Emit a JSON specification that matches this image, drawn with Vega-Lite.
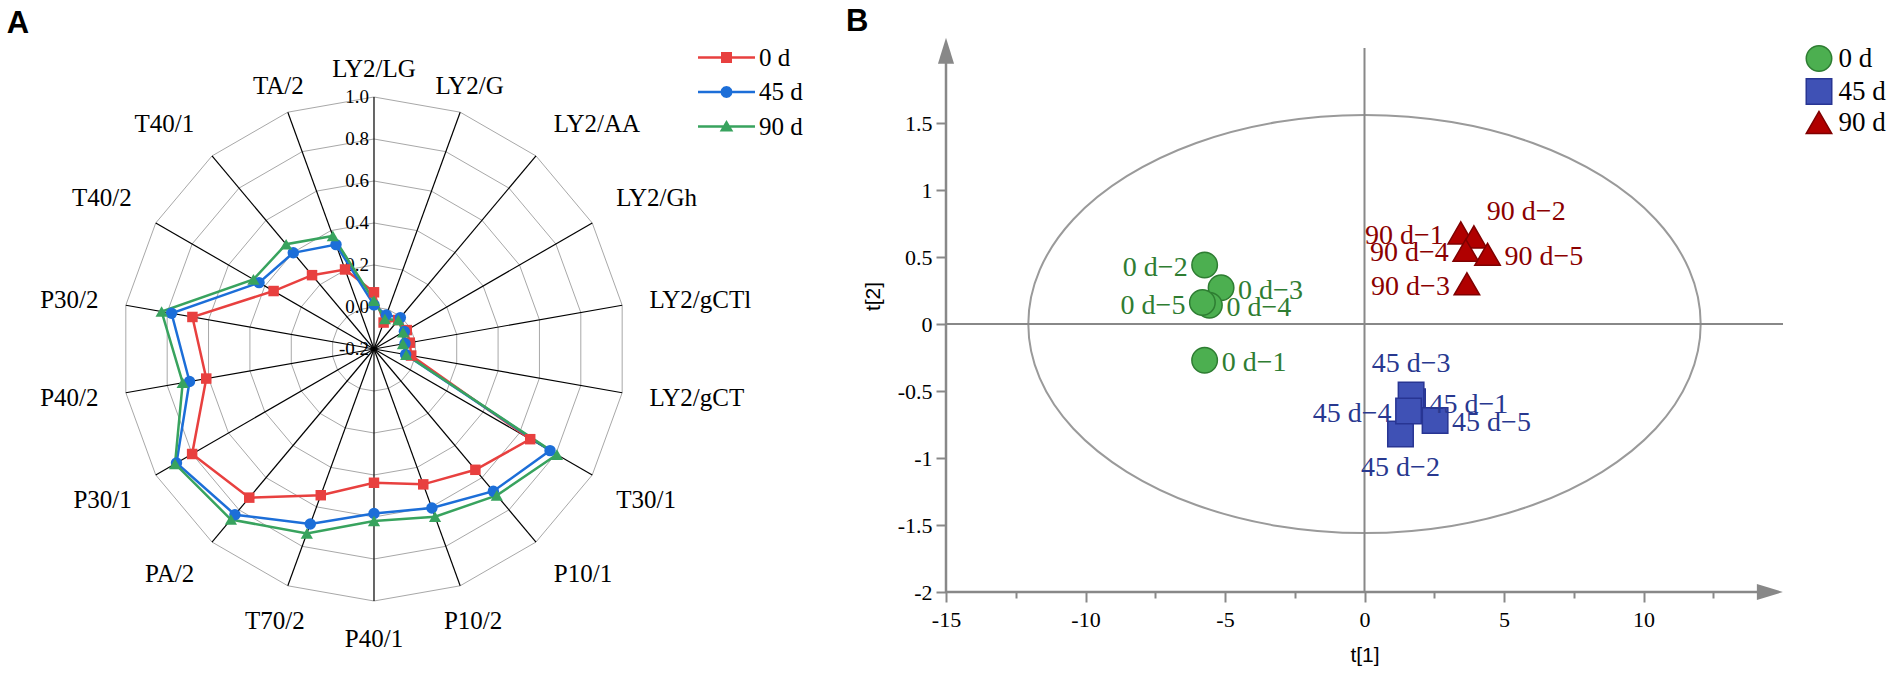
{
  "$schema": "https://vega.github.io/schema/vega-lite/v6.json",
  "padding": 0,
  "background": "white",
  "spacing": 146,
  "bounds": "flush",
  "config": {"view": {"stroke": null}, "font": "Liberation Serif", "axis": {"labelFont": "Liberation Serif"}},
  "resolve": {"scale": {"color": "independent", "shape": "independent", "fill": "independent", "stroke": "independent"}},
  "datasets": {
    "axes": [
      {"axis": "LY2/LG", "i": 0}, {"axis": "LY2/G", "i": 1}, {"axis": "LY2/AA", "i": 2},
      {"axis": "LY2/Gh", "i": 3}, {"axis": "LY2/gCTl", "i": 4}, {"axis": "LY2/gCT", "i": 5},
      {"axis": "T30/1", "i": 6}, {"axis": "P10/1", "i": 7}, {"axis": "P10/2", "i": 8},
      {"axis": "P40/1", "i": 9}, {"axis": "T70/2", "i": 10}, {"axis": "PA/2", "i": 11},
      {"axis": "P30/1", "i": 12}, {"axis": "P40/2", "i": 13}, {"axis": "P30/2", "i": 14},
      {"axis": "T40/2", "i": 15}, {"axis": "T40/1", "i": 16}, {"axis": "TA/2", "i": 17}
    ],
    "levels": [
      {"level": -0.2, "label": "-0.2"}, {"level": 0, "label": "0.0"}, {"level": 0.2, "label": "0.2"},
      {"level": 0.4, "label": "0.4"}, {"level": 0.6, "label": "0.6"}, {"level": 0.8, "label": "0.8"},
      {"level": 1, "label": "1.0"}
    ],
    "radar": [
      {"series": "0 d", "axis": "LY2/LG", "value": 0.07},
      {"series": "0 d", "axis": "LY2/G", "value": -0.066},
      {"series": "0 d", "axis": "LY2/AA", "value": -0.02},
      {"series": "0 d", "axis": "LY2/Gh", "value": -0.02},
      {"series": "0 d", "axis": "LY2/gCTl", "value": -0.027},
      {"series": "0 d", "axis": "LY2/gCT", "value": -0.02},
      {"series": "0 d", "axis": "T30/1", "value": 0.659},
      {"series": "0 d", "axis": "P10/1", "value": 0.551},
      {"series": "0 d", "axis": "P10/2", "value": 0.486},
      {"series": "0 d", "axis": "P40/1", "value": 0.437},
      {"series": "0 d", "axis": "T70/2", "value": 0.541},
      {"series": "0 d", "axis": "PA/2", "value": 0.724},
      {"series": "0 d", "axis": "P30/1", "value": 0.8},
      {"series": "0 d", "axis": "P40/2", "value": 0.611},
      {"series": "0 d", "axis": "P30/2", "value": 0.678},
      {"series": "0 d", "axis": "T40/2", "value": 0.352},
      {"series": "0 d", "axis": "T40/1", "value": 0.259},
      {"series": "0 d", "axis": "TA/2", "value": 0.203},
      {"series": "45 d", "axis": "LY2/LG", "value": 0.01},
      {"series": "45 d", "axis": "LY2/G", "value": -0.028},
      {"series": "45 d", "axis": "LY2/AA", "value": -0.005},
      {"series": "45 d", "axis": "LY2/Gh", "value": -0.033},
      {"series": "45 d", "axis": "LY2/gCTl", "value": -0.05},
      {"series": "45 d", "axis": "LY2/gCT", "value": -0.047},
      {"series": "45 d", "axis": "T30/1", "value": 0.768},
      {"series": "45 d", "axis": "P10/1", "value": 0.684},
      {"series": "45 d", "axis": "P10/2", "value": 0.606},
      {"series": "45 d", "axis": "P40/1", "value": 0.583},
      {"series": "45 d", "axis": "T70/2", "value": 0.687},
      {"series": "45 d", "axis": "PA/2", "value": 0.83},
      {"series": "45 d", "axis": "P30/1", "value": 0.886},
      {"series": "45 d", "axis": "P40/2", "value": 0.692},
      {"series": "45 d", "axis": "P30/2", "value": 0.779},
      {"series": "45 d", "axis": "T40/2", "value": 0.432},
      {"series": "45 d", "axis": "T40/1", "value": 0.398},
      {"series": "45 d", "axis": "TA/2", "value": 0.329},
      {"series": "90 d", "axis": "LY2/LG", "value": 0.03},
      {"series": "90 d", "axis": "LY2/G", "value": -0.048},
      {"series": "90 d", "axis": "LY2/AA", "value": -0.02},
      {"series": "90 d", "axis": "LY2/Gh", "value": -0.04},
      {"series": "90 d", "axis": "LY2/gCTl", "value": -0.06},
      {"series": "90 d", "axis": "LY2/gCT", "value": -0.044},
      {"series": "90 d", "axis": "T30/1", "value": 0.806},
      {"series": "90 d", "axis": "P10/1", "value": 0.71},
      {"series": "90 d", "axis": "P10/2", "value": 0.65},
      {"series": "90 d", "axis": "P40/1", "value": 0.619},
      {"series": "90 d", "axis": "T70/2", "value": 0.735},
      {"series": "90 d", "axis": "PA/2", "value": 0.86},
      {"series": "90 d", "axis": "P30/1", "value": 0.894},
      {"series": "90 d", "axis": "P40/2", "value": 0.725},
      {"series": "90 d", "axis": "P30/2", "value": 0.827},
      {"series": "90 d", "axis": "T40/2", "value": 0.463},
      {"series": "90 d", "axis": "T40/1", "value": 0.451},
      {"series": "90 d", "axis": "TA/2", "value": 0.373}
    ],
    "scores": [
      {"label": "0 d−1", "group": "0 d", "t1": -5.73, "t2": -0.27},
      {"label": "0 d−2", "group": "0 d", "t1": -5.73, "t2": 0.44},
      {"label": "0 d−3", "group": "0 d", "t1": -5.14, "t2": 0.27},
      {"label": "0 d−4", "group": "0 d", "t1": -5.56, "t2": 0.14},
      {"label": "0 d−5", "group": "0 d", "t1": -5.81, "t2": 0.16},
      {"label": "45 d−1", "group": "45 d", "t1": 1.72, "t2": -0.58},
      {"label": "45 d−2", "group": "45 d", "t1": 1.29, "t2": -0.82},
      {"label": "45 d−3", "group": "45 d", "t1": 1.67, "t2": -0.53},
      {"label": "45 d−4", "group": "45 d", "t1": 1.58, "t2": -0.65},
      {"label": "45 d−5", "group": "45 d", "t1": 2.53, "t2": -0.72},
      {"label": "90 d−1", "group": "90 d", "t1": 3.45, "t2": 0.68},
      {"label": "90 d−2", "group": "90 d", "t1": 3.92, "t2": 0.65},
      {"label": "90 d−3", "group": "90 d", "t1": 3.67, "t2": 0.3},
      {"label": "90 d−4", "group": "90 d", "t1": 3.63, "t2": 0.55},
      {"label": "90 d−5", "group": "90 d", "t1": 4.41, "t2": 0.52}
    ],
    "ellipse": [
      {"t1": 12.05, "t2": 0}, {"t1": 11.64, "t2": 0.404}, {"t1": 10.44, "t2": 0.78},
      {"t1": 8.52, "t2": 1.103}, {"t1": 6.03, "t2": 1.351}, {"t1": 3.12, "t2": 1.507},
      {"t1": 0, "t2": 1.56}, {"t1": -3.12, "t2": 1.507}, {"t1": -6.03, "t2": 1.351},
      {"t1": -8.52, "t2": 1.103}, {"t1": -10.44, "t2": 0.78}, {"t1": -11.64, "t2": 0.404},
      {"t1": -12.05, "t2": 0}, {"t1": -11.64, "t2": -0.404}, {"t1": -10.44, "t2": -0.78},
      {"t1": -8.52, "t2": -1.103}, {"t1": -6.03, "t2": -1.351}, {"t1": -3.12, "t2": -1.507},
      {"t1": 0, "t2": -1.56}, {"t1": 3.12, "t2": -1.507}, {"t1": 6.03, "t2": -1.351},
      {"t1": 8.52, "t2": -1.103}, {"t1": 10.44, "t2": -0.78}, {"t1": 11.64, "t2": -0.404}
    ]
  },
  "hconcat": [
    {
      "width": 800,
      "height": 675,
      "layer": [
        {
          "data": {"name": "radar"},
          "transform": [
            {"filter": "datum.axis === 'LY2/LG'"},
            {"calculate": "0", "as": "px"},
            {"calculate": "0", "as": "py"}
          ],
          "mark": {"type": "point", "filled": true, "size": 4, "opacity": 1},
          "encoding": {
            "x": {"field": "px", "type": "quantitative", "scale": {"domain": [-1.4841, 1.6905], "nice": false, "zero": false}, "axis": null},
            "y": {"field": "py", "type": "quantitative", "scale": {"domain": [-1.2937, 1.3849], "nice": false, "zero": false}, "axis": null},
            "color": {
              "field": "series", "type": "nominal",
              "scale": {"domain": ["0 d", "45 d", "90 d"], "range": ["#E8403F", "#1C6ED8", "#38A35E"]},
              "legend": {"title": null, "orient": "none", "legendX": 714, "legendY": 45, "labelFont": "Liberation Serif", "labelFontSize": 25, "labelColor": "black", "labelOffset": 20, "rowPadding": 8.5, "symbolSize": 484, "symbolStrokeWidth": 0, "padding": 0}
            },
            "shape": {
              "field": "series", "type": "nominal",
              "scale": {
                "domain": ["0 d", "45 d", "90 d"],
                "range": [
                  "M-2.59,-0.11L2.59,-0.11L2.59,0.11L-2.59,0.11ZM-0.5,-0.5L0.5,-0.5L0.5,0.5L-0.5,0.5Z",
                  "M-2.59,-0.11L2.59,-0.11L2.59,0.11L-2.59,0.11ZM0.55,0L0.476,0.275L0.275,0.476L0,0.55L-0.275,0.476L-0.476,0.275L-0.55,0L-0.476,-0.275L-0.275,-0.476L0,-0.55L0.275,-0.476L0.476,-0.275Z",
                  "M-2.59,-0.11L2.59,-0.11L2.59,0.11L-2.59,0.11ZM0,-0.6L0.62,0.45L-0.62,0.45Z"
                ]
              },
              "legend": {"title": null, "orient": "none", "legendX": 714, "legendY": 45, "labelFont": "Liberation Serif", "labelFontSize": 25, "labelColor": "black", "labelOffset": 20, "rowPadding": 8.5, "symbolSize": 484, "symbolStrokeWidth": 0, "padding": 0}
            }
          }
        },
        {
          "data": {"name": "levels"},
          "transform": [
            {"filter": "datum.level >= 0"},
            {"impute": "v", "key": "axis", "keyvals": ["LY2/LG", "LY2/G", "LY2/AA", "LY2/Gh", "LY2/gCTl", "LY2/gCT", "T30/1", "P10/1", "P10/2", "P40/1", "T70/2", "PA/2", "P30/1", "P40/2", "P30/2", "T40/2", "T40/1", "TA/2"], "groupby": ["level"], "value": 0},
            {"filter": "isValid(datum.axis)"},
            {"lookup": "axis", "from": {"data": {"name": "axes"}, "key": "axis", "fields": ["i"]}},
            {"calculate": "(datum.level + 0.2) / 1.2 * sin(datum.i * PI / 9)", "as": "px"},
            {"calculate": "(datum.level + 0.2) / 1.2 * cos(datum.i * PI / 9)", "as": "py"}
          ],
          "mark": {"type": "line", "interpolate": "linear-closed", "stroke": "#a8a8a8", "strokeWidth": 1},
          "encoding": {
            "x": {"field": "px", "type": "quantitative", "axis": null},
            "y": {"field": "py", "type": "quantitative", "axis": null},
            "detail": {"field": "level", "type": "nominal"},
            "order": {"field": "i", "type": "quantitative"}
          }
        },
        {
          "data": {"name": "levels"},
          "transform": [{"calculate": "(datum.level + 0.2) / 1.2", "as": "py"}],
          "mark": {"type": "text", "align": "right", "baseline": "middle", "dx": -5, "fontSize": 19, "font": "Liberation Serif", "color": "black"},
          "encoding": {
            "x": {"datum": 0, "type": "quantitative", "axis": null},
            "y": {"field": "py", "type": "quantitative", "axis": null},
            "text": {"field": "label"}
          }
        },
        {
          "data": {"name": "axes"},
          "transform": [
            {"calculate": "sin(datum.i * PI / 9)", "as": "px"},
            {"calculate": "cos(datum.i * PI / 9)", "as": "py"}
          ],
          "mark": {"type": "rule", "color": "black", "strokeWidth": 1.2},
          "encoding": {
            "x": {"field": "px", "type": "quantitative", "axis": null},
            "y": {"field": "py", "type": "quantitative", "axis": null},
            "x2": {"datum": 0},
            "y2": {"datum": 0}
          }
        },
        {
          "data": {"name": "radar"},
          "transform": [
            {"lookup": "axis", "from": {"data": {"name": "axes"}, "key": "axis", "fields": ["i"]}},
            {"calculate": "(datum.value + 0.2) / 1.2 * sin(datum.i * PI / 9)", "as": "px"},
            {"calculate": "(datum.value + 0.2) / 1.2 * cos(datum.i * PI / 9)", "as": "py"}
          ],
          "mark": {"type": "line", "interpolate": "linear-closed", "strokeWidth": 2.5},
          "encoding": {
            "x": {"field": "px", "type": "quantitative", "axis": null},
            "y": {"field": "py", "type": "quantitative", "axis": null},
            "stroke": {"field": "series", "type": "nominal", "scale": {"domain": ["0 d", "45 d", "90 d"], "range": ["#E8403F", "#1C6ED8", "#38A35E"]}, "legend": null},
            "order": {"field": "i", "type": "quantitative"}
          }
        },
        {
          "data": {"name": "radar"},
          "transform": [
            {"filter": "datum.series === '0 d'"},
            {"lookup": "axis", "from": {"data": {"name": "axes"}, "key": "axis", "fields": ["i"]}},
            {"calculate": "(datum.value + 0.2) / 1.2 * sin(datum.i * PI / 9)", "as": "px"},
            {"calculate": "(datum.value + 0.2) / 1.2 * cos(datum.i * PI / 9)", "as": "py"}
          ],
          "mark": {"type": "point", "shape": "square", "filled": true, "size": 110, "opacity": 1},
          "encoding": {
            "x": {"field": "px", "type": "quantitative", "axis": null},
            "y": {"field": "py", "type": "quantitative", "axis": null},
            "fill": {"field": "series", "type": "nominal", "scale": {"domain": ["0 d", "45 d", "90 d"], "range": ["#E8403F", "#1C6ED8", "#38A35E"]}, "legend": null}
          }
        },
        {
          "data": {"name": "radar"},
          "transform": [
            {"filter": "datum.series === '45 d'"},
            {"lookup": "axis", "from": {"data": {"name": "axes"}, "key": "axis", "fields": ["i"]}},
            {"calculate": "(datum.value + 0.2) / 1.2 * sin(datum.i * PI / 9)", "as": "px"},
            {"calculate": "(datum.value + 0.2) / 1.2 * cos(datum.i * PI / 9)", "as": "py"}
          ],
          "mark": {"type": "point", "shape": "circle", "filled": true, "size": 130, "opacity": 1},
          "encoding": {
            "x": {"field": "px", "type": "quantitative", "axis": null},
            "y": {"field": "py", "type": "quantitative", "axis": null},
            "fill": {"field": "series", "type": "nominal", "legend": null}
          }
        },
        {
          "data": {"name": "radar"},
          "transform": [
            {"filter": "datum.series === '90 d'"},
            {"lookup": "axis", "from": {"data": {"name": "axes"}, "key": "axis", "fields": ["i"]}},
            {"calculate": "(datum.value + 0.2) / 1.2 * sin(datum.i * PI / 9)", "as": "px"},
            {"calculate": "(datum.value + 0.2) / 1.2 * cos(datum.i * PI / 9)", "as": "py"}
          ],
          "mark": {"type": "point", "shape": "triangle-up", "filled": true, "size": 150, "opacity": 1},
          "encoding": {
            "x": {"field": "px", "type": "quantitative", "axis": null},
            "y": {"field": "py", "type": "quantitative", "axis": null},
            "fill": {"field": "series", "type": "nominal", "legend": null}
          }
        },
        {
          "data": {"name": "axes"},
          "transform": [
            {"filter": "datum.i >= 2 && datum.i <= 7"},
            {"calculate": "1.11 * sin(datum.i * PI / 9)", "as": "px"},
            {"calculate": "1.11 * cos(datum.i * PI / 9) + (cos(datum.i * PI / 9) > 0.3 ? 0.044 : cos(datum.i * PI / 9) < -0.3 ? -0.044 : 0)", "as": "py"}
          ],
          "mark": {"type": "text", "align": "left", "baseline": "middle", "fontSize": 25, "font": "Liberation Serif", "color": "black"},
          "encoding": {
            "x": {"field": "px", "type": "quantitative", "axis": null},
            "y": {"field": "py", "type": "quantitative", "axis": null},
            "text": {"field": "axis"}
          }
        },
        {
          "data": {"name": "axes"},
          "transform": [
            {"filter": "datum.i >= 11 && datum.i <= 16"},
            {"calculate": "1.11 * sin(datum.i * PI / 9)", "as": "px"},
            {"calculate": "1.11 * cos(datum.i * PI / 9) + (cos(datum.i * PI / 9) > 0.3 ? 0.044 : cos(datum.i * PI / 9) < -0.3 ? -0.044 : 0)", "as": "py"}
          ],
          "mark": {"type": "text", "align": "right", "baseline": "middle", "fontSize": 25, "font": "Liberation Serif", "color": "black"},
          "encoding": {
            "x": {"field": "px", "type": "quantitative", "axis": null},
            "y": {"field": "py", "type": "quantitative", "axis": null},
            "text": {"field": "axis"}
          }
        },
        {
          "data": {"name": "axes"},
          "transform": [
            {"filter": "datum.i <= 1 || datum.i == 17"},
            {"calculate": "1.11 * sin(datum.i * PI / 9)", "as": "px"},
            {"calculate": "1.11 * cos(datum.i * PI / 9)", "as": "py"}
          ],
          "mark": {"type": "text", "align": "center", "baseline": "middle", "fontSize": 25, "font": "Liberation Serif", "color": "black"},
          "encoding": {
            "x": {"field": "px", "type": "quantitative", "axis": null},
            "y": {"field": "py", "type": "quantitative", "axis": null},
            "text": {"field": "axis"}
          }
        },
        {
          "data": {"name": "axes"},
          "transform": [
            {"filter": "datum.i >= 8 && datum.i <= 10"},
            {"calculate": "1.15 * sin(datum.i * PI / 9)", "as": "px"},
            {"calculate": "1.15 * cos(datum.i * PI / 9)", "as": "py"}
          ],
          "mark": {"type": "text", "align": "center", "baseline": "middle", "fontSize": 25, "font": "Liberation Serif", "color": "black"},
          "encoding": {
            "x": {"field": "px", "type": "quantitative", "axis": null},
            "y": {"field": "py", "type": "quantitative", "axis": null},
            "text": {"field": "axis"}
          }
        },
        {
          "data": {"values": [{}]},
          "mark": {"type": "text", "align": "center", "baseline": "middle", "fontSize": 31, "font": "Liberation Sans", "fontWeight": "bold", "color": "black"},
          "encoding": {
            "x": {"datum": -1.413, "type": "quantitative", "axis": null},
            "y": {"datum": 1.29, "type": "quantitative", "axis": null},
            "text": {"value": "A"}
          }
        },
        {
          "data": {"values": [{}]},
          "mark": {"type": "text", "align": "center", "baseline": "middle", "fontSize": 31, "font": "Liberation Sans", "fontWeight": "bold", "color": "black"},
          "encoding": {
            "x": {"datum": 1.917, "type": "quantitative", "axis": null},
            "y": {"datum": 1.298, "type": "quantitative", "axis": null},
            "text": {"value": "B"}
          }
        }
      ]
    },
    {
      "width": 837,
      "height": 592,
      "layer": [
        {
          "data": {"name": "ellipse"},
          "mark": {"type": "line", "interpolate": "cardinal-closed", "stroke": "#9a9a9a", "strokeWidth": 2},
          "encoding": {
            "x": {"field": "t1", "type": "quantitative", "scale": {"domain": [-15, 15], "nice": false, "zero": false}},
            "y": {"field": "t2", "type": "quantitative", "scale": {"domain": [-2, 2.418], "nice": false, "zero": false}},
            "order": {"value": null}
          }
        },
        {
          "data": {"values": [{}]},
          "mark": {"type": "rule", "color": "#888888", "strokeWidth": 2},
          "encoding": {
            "x": {"datum": -15, "type": "quantitative"},
            "x2": {"datum": 15},
            "y": {"datum": 0, "type": "quantitative"}
          }
        },
        {
          "data": {"values": [{}]},
          "mark": {"type": "rule", "color": "#888888", "strokeWidth": 2},
          "encoding": {
            "x": {"datum": 0, "type": "quantitative"},
            "y": {"datum": -2, "type": "quantitative"},
            "y2": {"datum": 2.06}
          }
        },
        {
          "data": {"values": [{}]},
          "mark": {"type": "rule", "color": "#888888", "strokeWidth": 2.5},
          "encoding": {
            "x": {"datum": -15, "type": "quantitative"},
            "y": {"datum": -2, "type": "quantitative"},
            "y2": {"datum": 2.0}
          }
        },
        {
          "data": {"values": [{}]},
          "mark": {"type": "rule", "color": "#888888", "strokeWidth": 2.5},
          "encoding": {
            "x": {"datum": -15, "type": "quantitative"},
            "x2": {"datum": 14.5},
            "y": {"datum": -2, "type": "quantitative"}
          }
        },
        {
          "data": {"values": [{}]},
          "mark": {"type": "point", "shape": "M0,-1L0.62,1L-0.62,1Z", "filled": true, "color": "#888888", "size": 676, "opacity": 1},
          "encoding": {
            "x": {"datum": -15, "type": "quantitative"},
            "y": {"datum": 2.04, "type": "quantitative"}
          }
        },
        {
          "data": {"values": [{}]},
          "mark": {"type": "point", "shape": "M1,0L-1,-0.62L-1,0.62Z", "filled": true, "color": "#888888", "size": 676, "opacity": 1},
          "encoding": {
            "x": {"datum": 14.53, "type": "quantitative"},
            "y": {"datum": -2, "type": "quantitative"}
          }
        },
        {
          "data": {"name": "scores"},
          "mark": {"type": "point", "filled": true, "opacity": 1, "size": 650, "strokeWidth": 1.5},
          "encoding": {
            "x": {
              "field": "t1", "type": "quantitative",
              "axis": {
                "values": [-15, -12.5, -10, -7.5, -5, -2.5, 0, 2.5, 5, 7.5, 10, 12.5],
                "labelExpr": "datum.value % 5 === 0 ? '' + datum.value : ''",
                "tickSize": {"condition": {"test": "datum.value % 5 === 0", "value": 10}, "value": 6},
                "domain": false, "grid": false, "tickColor": "#888888", "tickWidth": 2,
                "labelFont": "Liberation Serif", "labelFontSize": 22, "labelColor": "black", "labelPadding": 7,
                "labelFlush": false, "labelOverlap": false,
                "title": "t[1]", "titleFont": "Liberation Sans", "titleFontSize": 21, "titleFontWeight": "normal", "titleColor": "black", "titlePadding": 14
              }
            },
            "y": {
              "field": "t2", "type": "quantitative",
              "axis": {
                "values": [-2, -1.75, -1.5, -1.25, -1, -0.75, -0.5, -0.25, 0, 0.25, 0.5, 0.75, 1, 1.25, 1.5, 1.75],
                "labelExpr": "datum.value % 0.5 === 0 ? '' + datum.value : ''",
                "tickSize": {"condition": {"test": "datum.value % 0.5 === 0", "value": 10}, "value": 6},
                "domain": false, "grid": false, "tickColor": "#888888", "tickWidth": 2,
                "labelFont": "Liberation Serif", "labelFontSize": 22, "labelColor": "black", "labelPadding": 4,
                "labelFlush": false, "labelOverlap": false,
                "title": "t[2]", "titleFont": "Liberation Sans", "titleFontSize": 21, "titleFontWeight": "normal", "titleColor": "black", "titlePadding": 14
              }
            },
            "color": {
              "field": "group", "type": "nominal",
              "scale": {"domain": ["0 d", "45 d", "90 d"], "range": ["#4CAF50", "#3F51B5", "#B00000"]},
              "legend": {"title": null, "orient": "none", "legendX": 859.5, "legendY": 45, "labelFont": "Liberation Serif", "labelFontSize": 27, "labelColor": "black", "labelOffset": 6, "rowPadding": 0, "symbolSize": 650, "symbolStrokeWidth": 1.5, "padding": 0}
            },
            "stroke": {
              "field": "group", "type": "nominal",
              "scale": {"domain": ["0 d", "45 d", "90 d"], "range": ["#2E7D32", "#283593", "#7F0000"]},
              "legend": {"title": null, "orient": "none", "legendX": 859.5, "legendY": 45, "labelFont": "Liberation Serif", "labelFontSize": 27, "labelColor": "black", "labelOffset": 6, "rowPadding": 0, "symbolSize": 650, "symbolStrokeWidth": 1.5, "padding": 0}
            },
            "shape": {
              "field": "group", "type": "nominal",
              "scale": {"domain": ["0 d", "45 d", "90 d"], "range": ["circle", "square", "triangle-up"]},
              "legend": {"title": null, "orient": "none", "legendX": 859.5, "legendY": 45, "labelFont": "Liberation Serif", "labelFontSize": 27, "labelColor": "black", "labelOffset": 6, "rowPadding": 0, "symbolSize": 650, "symbolStrokeWidth": 1.5, "padding": 0}
            }
          }
        },
        {
          "data": {"name": "scores"},
          "transform": [{"filter": {"field": "label", "oneOf": ["0 d−2", "0 d−5", "90 d−1", "90 d−4", "90 d−3", "45 d−4"]}}],
          "mark": {"type": "text", "align": "right", "baseline": "middle", "dx": -17, "dy": 3, "fontSize": 28, "font": "Liberation Serif"},
          "encoding": {
            "x": {"field": "t1", "type": "quantitative"},
            "y": {"field": "t2", "type": "quantitative"},
            "text": {"field": "label"},
            "fill": {"field": "group", "type": "nominal", "scale": {"domain": ["0 d", "45 d", "90 d"], "range": ["#2F7D32", "#28388F", "#8B0000"]}, "legend": null}
          }
        },
        {
          "data": {"name": "scores"},
          "transform": [{"filter": {"field": "label", "oneOf": ["0 d−3", "0 d−4", "0 d−1", "90 d−5", "45 d−1", "45 d−5"]}}],
          "mark": {"type": "text", "align": "left", "baseline": "middle", "dx": 17, "dy": 3, "fontSize": 28, "font": "Liberation Serif"},
          "encoding": {
            "x": {"field": "t1", "type": "quantitative"},
            "y": {"field": "t2", "type": "quantitative"},
            "text": {"field": "label"},
            "fill": {"field": "group", "type": "nominal", "legend": null}
          }
        },
        {
          "data": {"name": "scores"},
          "transform": [{"filter": {"field": "label", "oneOf": ["45 d−3"]}}],
          "mark": {"type": "text", "align": "center", "baseline": "middle", "dy": -31, "fontSize": 28, "font": "Liberation Serif"},
          "encoding": {
            "x": {"field": "t1", "type": "quantitative"},
            "y": {"field": "t2", "type": "quantitative"},
            "text": {"field": "label"},
            "fill": {"field": "group", "type": "nominal", "legend": null}
          }
        },
        {
          "data": {"name": "scores"},
          "transform": [{"filter": {"field": "label", "oneOf": ["45 d−2"]}}],
          "mark": {"type": "text", "align": "center", "baseline": "middle", "dy": 34, "fontSize": 28, "font": "Liberation Serif"},
          "encoding": {
            "x": {"field": "t1", "type": "quantitative"},
            "y": {"field": "t2", "type": "quantitative"},
            "text": {"field": "label"},
            "fill": {"field": "group", "type": "nominal", "legend": null}
          }
        },
        {
          "data": {"name": "scores"},
          "transform": [{"filter": {"field": "label", "oneOf": ["90 d−2"]}}],
          "mark": {"type": "text", "align": "left", "baseline": "middle", "dx": 13, "dy": -25, "fontSize": 28, "font": "Liberation Serif"},
          "encoding": {
            "x": {"field": "t1", "type": "quantitative"},
            "y": {"field": "t2", "type": "quantitative"},
            "text": {"field": "label"},
            "fill": {"field": "group", "type": "nominal", "legend": null}
          }
        }
      ]
    }
  ]
}
